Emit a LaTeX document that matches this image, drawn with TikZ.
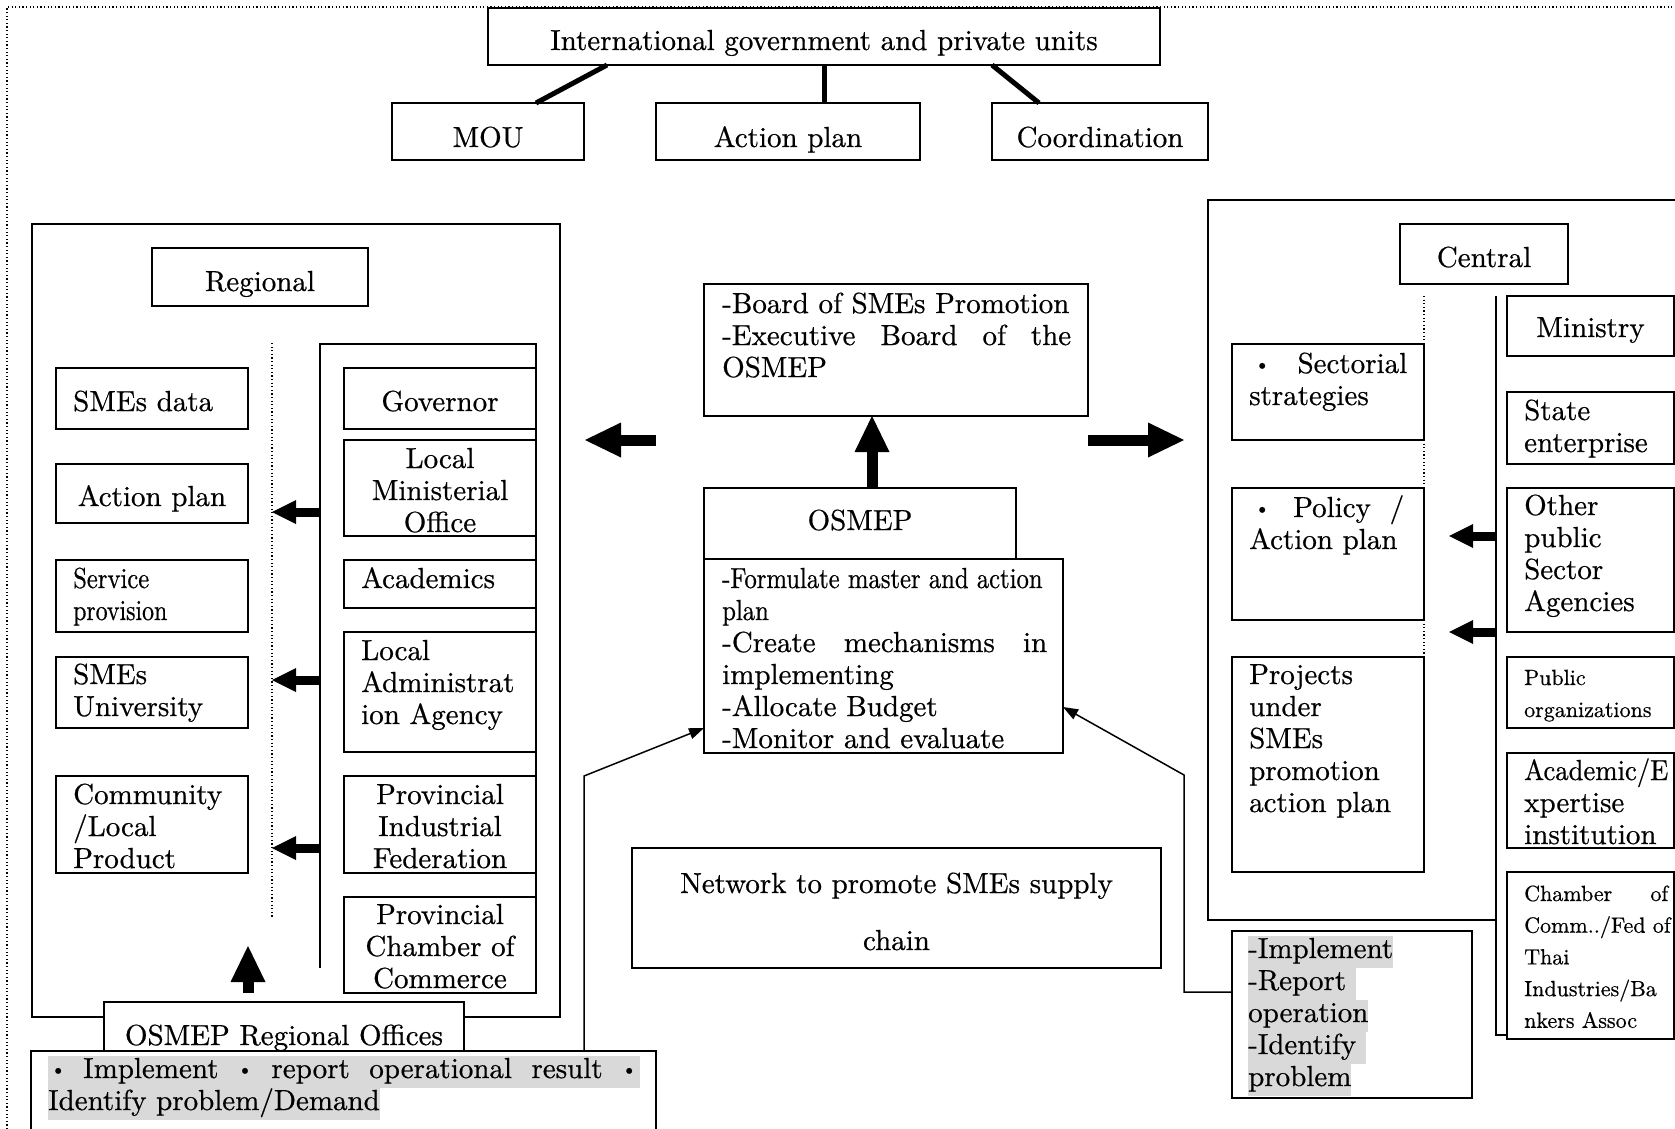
\documentclass[tikz,border=0pt]{standalone}
\usepackage{graphicx}
\usepackage{fontspec}
\setmainfont{lmroman10-regular.otf}[FakeBold=0.6]
\usetikzlibrary{arrows.meta}
\definecolor{hl}{RGB}{217,217,217}
\setlength{\fboxsep}{0pt}
\newcommand{\fmain}{\fontsize{29}{32}\selectfont}
\newcommand{\fsmall}{\fontsize{22}{32}\selectfont}
\newcommand{\fsmallb}{\fontsize{22}{31.7}\selectfont}
\newcommand{\cdt}{\makebox[14pt]{\raisebox{2.5pt}{\fontsize{20}{20}\selectfont\textbullet}}}
\newcommand{\cnd}[2][0.85]{\scalebox{#1}[1]{#2}}
\newcommand{\hlt}[1]{\colorbox{hl}{\strut #1}}
\newcommand{\jst}[2]{\makebox[#1][s]{\spaceskip=.3333em plus 1fil\relax #2}}
\newcommand{\MKBOX}[5]{\node[bx,minimum width=#4pt,minimum height=#5pt] (#1) at (#2,#3) {};}
\newcommand{\TXL}[6][]{\node[txl=#5pt,#1] (#2T) at ([shift={(#3,#4)}]#2.north west) {#6};}
\newcommand{\TXC}[4]{\node[txc=#3pt] (#1T) at ([shift={(0,#2)}]#1.north) {#4};}
\begin{document}
\begin{tikzpicture}[x=1pt,y=-1pt,
  bx/.style={draw, line width=1.8pt, rectangle, inner sep=0pt, outer sep=0pt, anchor=north west, fill=white},
  frm/.style={line width=1.8pt},
  dotl/.style={line width=1.2pt, dash pattern=on 1.2pt off 2.4pt},
  txl/.style={anchor=base west, align=left, inner sep=0pt, font=\fmain, text width=#1},
  txc/.style={anchor=base, align=center, inner sep=0pt, font=\fmain, text width=#1},
  con/.style={line width=5pt},
  thinarr/.style={line width=1.5pt, -{Triangle[length=15pt,width=11pt]}},
  bigarr/.style={line width=11pt, -{Triangle[length=36pt,width=35pt,line width=0pt]}},
  smarr/.style={line width=9pt, -{Triangle[length=24pt,width=24pt,line width=0pt]}}]
\useasboundingbox (0,0) rectangle (1675,1129);
% dotted page frame
\draw[dotl] (7,1140) -- (7,7) -- (1680,7);

% ---------- top ----------
\MKBOX{intl}{488}{8}{672}{57}
\TXC{intl}{42}{672}{International government and private units}
\MKBOX{mou}{392}{103}{192}{57}
\TXC{mou}{44}{192}{MOU}
\MKBOX{actp}{656}{103}{264}{57}
\TXC{actp}{44}{264}{Action plan}
\MKBOX{coord}{992}{103}{216}{57}
\TXC{coord}{44}{216}{Coordination}
\draw[con] ([xshift=119pt]intl.south west) -- ([xshift=144pt]mou.north west);
\draw[con] (intl.south) -- ([xshift=168pt]actp.north west);
\draw[con] ([xshift=504pt]intl.south west) -- ([xshift=47pt]coord.north west);

% ---------- regional ----------
\MKBOX{regframe}{32}{224}{528}{793}
\MKBOX{regional}{152}{248}{216}{58}
\TXC{regional}{43}{216}{Regional}
\draw[dotl] (272,343) -- (272,917);
\draw[frm] (320,968) |- (536,344) -- (536,993);
\MKBOX{smesdata}{56}{368}{192}{61}
\TXL{smesdata}{17}{43}{170}{SMEs data}
\MKBOX{ractp}{56}{464}{192}{59}
\TXC{ractp}{42}{192}{Action plan}
\MKBOX{service}{56}{560}{192}{72}
\TXL{service}{17}{28}{170}{\cnd{Service}\\\cnd[0.82]{provision}}
\MKBOX{smesuni}{56}{657}{192}{71}
\TXL{smesuni}{17}{27}{170}{SMEs\\University}
\MKBOX{community}{56}{776}{192}{97}
\TXL{community}{17}{28}{170}{Community\\/Local\\Product}
\MKBOX{governor}{344}{368}{192}{61}
\TXC{governor}{43}{192}{Governor}
\MKBOX{lmo}{344}{440}{192}{96}
\TXC{lmo}{28}{192}{Local\\Ministerial\\Office}
\MKBOX{academics}{344}{560}{192}{48}
\TXL{academics}{17}{28}{170}{Academics}
\MKBOX{laa}{344}{632}{192}{120}
\TXL{laa}{17}{28}{172}{Local\\Administrat\\ion Agency}
\MKBOX{pif}{344}{776}{192}{97}
\TXC{pif}{28}{192}{Provincial\\Industrial\\Federation}
\MKBOX{pcc}{344}{897}{192}{96}
\TXC{pcc}{27}{192}{Provincial\\Chamber of\\Commerce}
\coordinate (ra1s) at (320,512); \coordinate (ra1e) at (272,512);
\coordinate (ra2s) at (320,680); \coordinate (ra2e) at (272,680);
\coordinate (ra3s) at (320,848); \coordinate (ra3e) at (272,848);
\draw[smarr] (ra1s) -- (ra1e);
\draw[smarr] (ra2s) -- (ra2e);
\draw[smarr] (ra3s) -- (ra3e);
\coordinate (rups) at (248,993); \coordinate (rupe) at (248,946);
\draw[bigarr] (rups) -- (rupe);
\MKBOX{ro}{104}{1002}{360}{60}
\TXC{ro}{43}{360}{OSMEP Regional Offices}
\MKBOX{bot}{31}{1051}{625}{100}
\TXL{bot}{17}{27}{600}{\hlt{\makebox[592pt][s]{\hspace*{3pt}\cdt\hspace{18pt}Implement\hfill\cdt\hfill report\hfill operational\hfill result\hfill\cdt\hspace*{4pt}}}\\\hlt{Identify problem/Demand}}

% ---------- center ----------
\MKBOX{board}{704}{284}{384}{132}
\TXL{board}{18}{29}{352}{-Board of SMEs Promotion\\\jst{349pt}{-Executive Board of the}\\OSMEP}
\MKBOX{osmep}{704}{488}{312}{71}
\TXC{osmep}{42}{312}{OSMEP}
\MKBOX{tasks}{704}{559}{359}{194}
\TXL{tasks}{18}{29}{330}{\cnd{-Formulate master and action}\\\cnd{plan}\\\jst{325pt}{-Create mechanisms in}\\implementing\\-Allocate Budget\\-Monitor and evaluate}
\draw[bigarr] ([xshift=168pt]osmep.north west) -- ([xshift=168pt]board.south west);
\coordinate (la1) at (656,440); \coordinate (la2) at (585,440);
\coordinate (rb1) at (1088,440); \coordinate (rb2) at (1184,440);
\draw[bigarr] (la1) -- (la2);
\draw[bigarr] (rb1) -- (rb2);
\MKBOX{network}{632}{848}{529}{120}
\TXC{network}{45}{529}{Network to promote SMEs supply\\[25pt]chain}

% ---------- central ----------
\draw[frm] (1680,200) -| (1208,920) -- (1496,920);
\draw[frm] (1496,296) |- (1680,1035);
\draw[dotl] (1424,296) -- (1424,657);
\MKBOX{centralL}{1400}{224}{168}{60}
\TXC{centralL}{43}{168}{Central}
\MKBOX{sect}{1232}{344}{192}{96}
\TXL{sect}{17}{29}{160}{\makebox[158pt][s]{\hspace*{6pt}\cdt\hfill Sectorial}\\strategies}
\MKBOX{policy}{1232}{488}{192}{132}
\TXL{policy}{17}{29}{160}{\makebox[155pt][s]{\hspace*{6pt}\cdt\hspace{24pt}Policy\hfill/}\\Action plan}
\MKBOX{projects}{1232}{657}{192}{215}
\TXL{projects}{17}{27}{172}{Projects\\under\\SMEs\\promotion\\action plan}
\MKBOX{ministry}{1507}{296}{167}{60}
\TXC{ministry}{41}{167}{Ministry}
\MKBOX{state}{1507}{392}{167}{72}
\TXL{state}{17}{28}{150}{State\\enterprise}
\MKBOX{other}{1507}{488}{167}{144}
\TXL{other}{17}{27}{150}{Other\\public\\Sector\\Agencies}
\MKBOX{puborg}{1507}{657}{167}{71}
\TXL[font=\fsmall]{puborg}{17}{28}{150}{Public\\organizations}
\MKBOX{acad}{1507}{753}{167}{95}
\TXL{acad}{17}{27}{150}{\cnd[0.92]{Academic/E}\\xpertise\\institution}
\MKBOX{chamber}{1507}{872}{167}{167}
\TXL[font=\fsmallb]{chamber}{17}{29}{150}{\jst{144pt}{Chamber of}\\\jst{144pt}{Comm../Fed of}\\Thai\\Industries/Ba\\nkers Assoc}
\coordinate (ca1s) at (1496,536); \coordinate (ca1e) at (1449,536);
\coordinate (ca2s) at (1496,632); \coordinate (ca2e) at (1449,632);
\draw[smarr] (ca1s) -- (ca1e);
\draw[smarr] (ca2s) -- (ca2e);
\MKBOX{impl}{1232}{931}{240}{167}
\TXL{impl}{16}{27}{220}{\hlt{-Implement}\\\hlt{-Report\ }\\\hlt{operation}\\\hlt{-Identify\ }\\\hlt{problem}}

% ---------- thin connectors ----------
\draw[thinarr] ([xshift=553pt]bot.north west) -- ++(0,-275) -- ([yshift=25pt]tasks.south west);
\draw[thinarr] ([yshift=-61pt]impl.north west) -- ++(-48,0) -- ++(0,-217) -- ([yshift=46pt]tasks.south east);
\end{tikzpicture}
\end{document}
